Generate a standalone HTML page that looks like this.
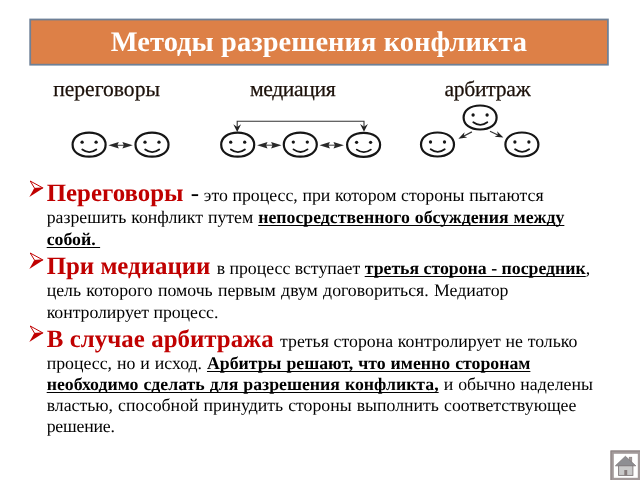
<!DOCTYPE html>
<html lang="ru">
<head>
<meta charset="utf-8">
<title>Методы разрешения конфликта</title>
<style>
html,body{margin:0;padding:0;}
body{text-rendering:geometricPrecision;width:640px;height:480px;overflow:hidden;background:#fff;position:relative;font-family:"Liberation Serif",serif;color:#000;}
#wrap{position:absolute;left:0;top:0;width:640px;height:480px;will-change:transform;opacity:0.999;}
#title{letter-spacing:0.075px;position:absolute;left:29.2px;top:18.6px;width:579.5px;height:47px;color:#fff;font-weight:bold;font-size:28.44px;text-align:center;line-height:47px;white-space:nowrap;}
.lbl{position:absolute;font-size:21.6px;line-height:24px;color:#1c110a;white-space:nowrap;-webkit-text-stroke:0.25px #1c110a;}
#dia{position:absolute;left:0;top:0;}
.ln{position:absolute;left:46.7px;white-space:pre;font-size:17.78px;line-height:24px;height:24px;}
.h{color:#c00000;font-weight:bold;font-size:24.89px;letter-spacing:0;}
.d{font-size:24.89px;letter-spacing:0;word-spacing:0;}
.bu{letter-spacing:0;font-weight:bold;text-decoration:underline;text-decoration-skip-ink:none;text-decoration-thickness:1.3px;text-underline-offset:1.8px;}
.ar{position:absolute;left:29px;}
</style>
</head>
<body>
<div id="wrap">
<div class="lbl" id="l1" style="left:53.2px;top:76.9px;">переговоры</div>
<div class="lbl" id="l2" style="left:250px;top:76.9px;letter-spacing:-0.36px;">медиация</div>
<div class="lbl" id="l3" style="left:444.4px;top:76.9px;letter-spacing:-0.25px;">арбитраж</div>
<svg id="dia" width="640" height="480" viewBox="0 0 640 480">
<rect x="30.2" y="19.5" width="577.7" height="45.2" fill="#dd8047" stroke="#6e8097" stroke-width="1.8"/>
<defs>
<g id="sm">
<path d="M-16.5 0 C-16.5 -7.20 -9.90 -12 0 -12 C9.90 -12 16.5 -7.20 16.5 0 C16.5 7.20 9.90 12 0 12 C-9.90 12 -16.5 7.20 -16.5 0 Z" fill="#fff" stroke="#161616" stroke-width="2.2"/>
<circle cx="-7" cy="-2.5" r="1.65" fill="#161616"/>
<circle cx="7" cy="-2.5" r="1.65" fill="#161616"/>
<path d="M-6.8 4.8 Q0.2 10 7.2 4.8" fill="none" stroke="#161616" stroke-width="1.8" stroke-linecap="round"/>
</g>
<g id="da">
<path d="M-12.2 0 L-1.8 -3.3 L-3.2 0 L-1.8 3.3 Z M12.2 0 L1.8 -3.3 L3.2 0 L1.8 3.3 Z" fill="#2a2a2a"/>
<path d="M-4 0 L4 0" stroke="#2a2a2a" stroke-width="0.9"/>
</g>
<g id="bl">
<path d="M30.2 1.6 L42.8 8.5 L34.7 9 Z" fill="#fff" stroke="#c00000" stroke-width="1" stroke-linejoin="miter"/>
<path d="M34.2 8.9 L43.8 8.3 L29.3 17.5 Z" fill="#c00000"/>
</g>
</defs>
<use href="#sm" x="89.1" y="144.7"/>
<use href="#sm" x="152" y="144.7"/>
<use href="#da" x="120.6" y="145.3"/>
<use href="#sm" x="237.7" y="144.7"/>
<use href="#sm" x="300.3" y="144.6"/>
<use href="#sm" x="363.6" y="144.8"/>
<use href="#da" x="269.3" y="145.2"/>
<use href="#da" x="331.7" y="145.2"/>
<path d="M237.2 128 L237.2 121.3 L364 121.3 L364 128" fill="none" stroke="#333" stroke-width="1.1"/>
<path d="M237.2 132 L233.3 124.3 L237.2 127 L241.1 124.3 Z M364 131.8 L360.1 124.1 L364 126.8 L367.9 124.1 Z" fill="#222"/>
<use href="#sm" x="480.1" y="117.5"/>
<use href="#sm" x="437.5" y="144.5"/>
<use href="#sm" x="521.9" y="144.5"/>
<path d="M471.9 131.9 L462 137" stroke="#333" stroke-width="1.2"/>
<path d="M490 131.3 L500 136" stroke="#333" stroke-width="1.2"/>
<path d="M458.4 138.7 L467.2 137.6 L463.8 136 L464.5 132.2 Z M503.4 137.4 L494.6 136.7 L498 135 L497.1 131.2 Z" fill="#222"/>
<use href="#bl" x="0" y="179.4"/>
<use href="#bl" x="0" y="251.4"/>
<use href="#bl" x="0" y="324.4"/>
<g id="home">
<rect x="610.5" y="450.5" width="30" height="30" fill="#a39a9a"/>
<rect x="611" y="451" width="30" height="30" fill="none" stroke="#8a8080" stroke-width="1"/>
<rect x="613.8" y="453.8" width="24" height="24" fill="#fff"/>
<rect x="629.2" y="457.2" width="2.6" height="6" fill="#a09a9a" stroke="#857b7b" stroke-width="0.6"/>
<rect x="618.6" y="465.5" width="14.3" height="9.9" fill="#c9c9c9" stroke="#80787a" stroke-width="0.9"/>
<path d="M625.4 456.3 L635.8 465.8 L615.4 465.8 Z" fill="#8e8e92" stroke="#80787a" stroke-width="0.8" stroke-linejoin="round"/>
<rect x="624.3" y="470" width="2.9" height="5.4" fill="#857b7b"/>
</g>
</svg>
<div id="title">Методы разрешения конфликта</div>
<div class="ln" style="top:181.8px;word-spacing:0.2px;"><span class="h">Переговоры</span><span class="d" style="margin-left:1.2px;"> -</span> это процесс, при котором стороны пытаются</div>
<div class="ln" style="top:205px;word-spacing:0.52px;">разрешить конфликт путем <span class="bu">непосредственного обсуждения между</span></div>
<div class="ln" style="top:226.5px;"><span class="bu">собой. </span></div>
<div class="ln" style="top:254.6px;letter-spacing:-0.01px;"><span class="h">При медиации </span>в процесс вступает <span class="bu">третья сторона - посредник</span>,</div>
<div class="ln" style="top:277.8px;word-spacing:0.85px;">цель которого помочь первым двум договориться. Медиатор</div>
<div class="ln" style="top:300.3px;letter-spacing:-0.05px;">контролирует процесс.</div>
<div class="ln" style="top:327.8px;word-spacing:0.3px;"><span class="h">В случае арбитража </span>третья сторона контролирует не только</div>
<div class="ln" style="top:350.8px;word-spacing:0.52px;">процесс, но и исход. <span class="bu">Арбитры решают, что именно сторонам</span></div>
<div class="ln" style="top:371.7px;word-spacing:0.57px;"><span class="bu">необходимо сделать для разрешения конфликта,</span> и обычно наделены</div>
<div class="ln" style="top:393.3px;word-spacing:0.6px;">властью, способной принудить стороны выполнить соответствующее</div>
<div class="ln" style="top:413.7px;letter-spacing:-0.2px;">решение.</div>
</div>
</body>
</html>
